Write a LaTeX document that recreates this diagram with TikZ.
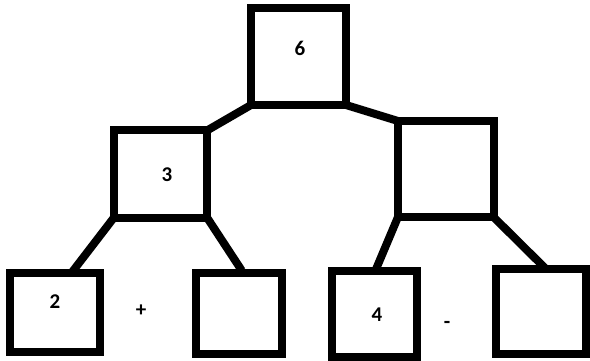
\documentclass[tikz,border=0pt]{standalone}
\usepackage{fontspec}
\setmainfont{Carlito}
\usetikzlibrary{calc}
\begin{document}
\begin{tikzpicture}[x=1pt,y=-1pt,
  box/.style={draw=black,line width=8pt,outer sep=0pt,inner sep=0pt,rectangle},
  link/.style={draw=black,line width=8pt},
  lbl/.style={font=\fontsize{21}{25}\selectfont\bfseries,inner sep=0pt}]
\useasboundingbox (0,0) rectangle (590,361);
\node[box,minimum width=95pt,minimum height=96.5pt] (top) at (298.5,56.75) {};
\node[box,minimum width=93pt,minimum height=87pt] (b3) at (160.5,174) {};
\node[box,minimum width=95.5pt,minimum height=96pt] (rm) at (445.75,169) {};
\node[box,minimum width=89.5pt,minimum height=79pt] (b2) at (54.75,312) {};
\node[box,minimum width=86.5pt,minimum height=81.5pt] (b5) at (238.75,313.25) {};
\node[box,minimum width=85.5pt,minimum height=85.5pt] (b4) at (374.25,313.75) {};
\node[box,minimum width=90pt,minimum height=84.5pt] (b7) at (541,311.25) {};
\node[lbl] (t6) at (300,48) {6};
\node[lbl] (t3) at (167,175) {3};
\node[lbl] (t2) at (55,302) {2};
\node[lbl] (t4) at (377,315) {4};
\node[lbl] (tplus) at (141,311) {+};
\node[lbl] (tminus) at (447,325) {-};
\draw[link] (top.south west) -- (b3.north east);
\draw[link] (top.south east) -- (rm.north west);
\draw[link] (b3.south west) -- ([xshift=17pt]b2.north);
\draw[link] (b3.south east) -- ([xshift=3pt,yshift=2pt]b5.north);
\draw[link] (rm.south west) -- ([xshift=1pt]b4.north);
\draw[link] (rm.south east) -- ([xshift=5pt]b7.north);
\end{tikzpicture}
\end{document}
